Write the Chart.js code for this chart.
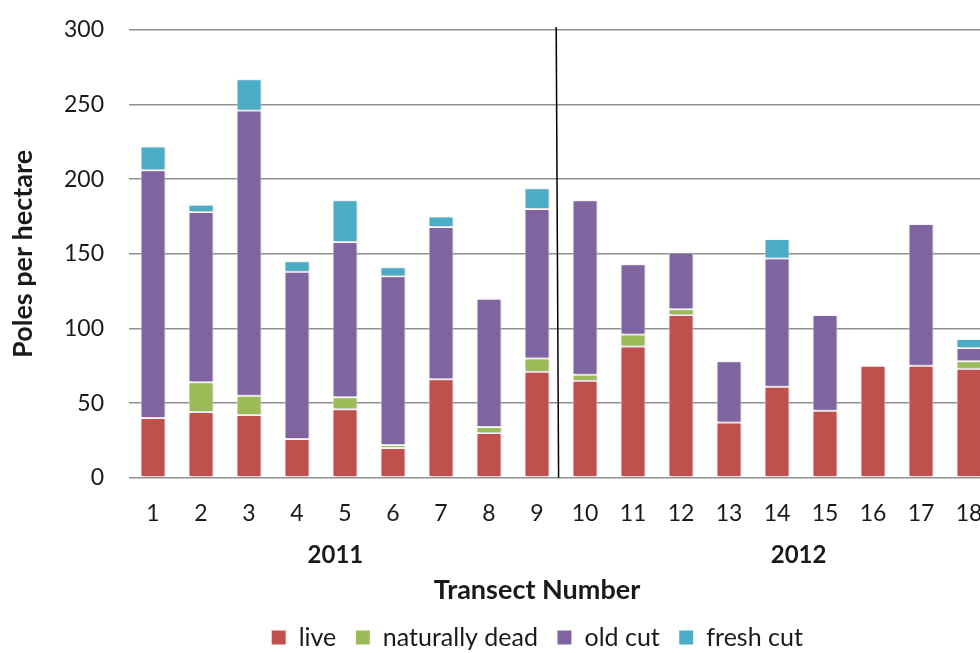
<!DOCTYPE html>
<html>
<head>
<meta charset="utf-8">
<script src="https://cdn.jsdelivr.net/npm/chart.js@4.4.1/dist/chart.umd.min.js"></script>
<style>
  html, body { margin: 0; padding: 0; background: #ffffff; overflow: hidden; }
  #wrap { position: relative; width: 1074px; height: 653px; }
</style>
</head>
<body>
<div id="wrap"><canvas id="chart"></canvas></div>
<script>
// Transect survey: poles per hectare by condition
const transects = ['1','2','3','4','5','6','7','8','9','10','11','12','13','14','15','16','17','18'];
const live          = [40, 44, 42, 26, 46, 20, 66, 30, 71, 65, 88, 109, 37, 61, 45, 75, 75, 73];
const naturallyDead = [ 0, 20, 13,  0,  8,  2,  0,  4,  9,  4,  8,   4,  0,  0,  0,  0,  0,  5];
const oldCut        = [166,114,191,112,104,113,102, 86,100,117, 47,  38, 41, 86, 64,  0, 95,  9];
const freshCut      = [16,  5, 21,  7, 28,  6,  7,  0, 14,  0,  0,   0,  0, 13,  0,  0,  0,  6];
const surveyYears   = ['2011', '2012'];
const yTicks        = [0, 50, 100, 150, 200, 250, 300];

const FONT = 'Lato, "Open Sans", sans-serif';
const INK = '#1a1a1a';

// soft glow under the bars
const barShadow = {
  id: 'barShadow',
  beforeDatasetsDraw(chart) {
    const ctx = chart.ctx;
    ctx.save();
    ctx.shadowColor = 'rgba(0,0,0,0.28)';
    ctx.shadowBlur = 3;
    ctx.shadowOffsetX = 1;
    ctx.shadowOffsetY = 1;
  },
  afterDatasetsDraw(chart) {
    chart.ctx.restore();
  }
};

// year split line and year captions under the tick labels
const yearDivider = {
  id: 'yearDivider',
  afterDraw(chart, args, opts) {
    const {ctx, chartArea} = chart;
    const x = chart.scales.x;
    ctx.save();
    ctx.strokeStyle = '#000';
    ctx.lineWidth = 1.5;
    ctx.beginPath();
    ctx.moveTo(x.getPixelForValue(opts.splitTop), chartArea.top - 3);
    ctx.lineTo(x.getPixelForValue(opts.splitBottom), chartArea.bottom);
    ctx.stroke();
    ctx.fillStyle = INK;
    ctx.font = 'bold 24px ' + FONT;
    ctx.textAlign = 'center';
    ctx.textBaseline = 'middle';
    surveyYears.forEach((yr, i) => {
      ctx.fillText(yr, x.getPixelForValue(opts.captionAt[i]), chartArea.bottom + opts.captionOffset);
    });
    ctx.restore();
  }
};

const ds = (label, data, color) => ({
  label, data,
  backgroundColor: color,
  borderColor: '#ffffff',
  borderWidth: 1,
  borderSkipped: false,
  categoryPercentage: 1.0,
  barPercentage: 0.52
});

new Chart(document.getElementById('chart'), {
  type: 'bar',
  data: {
    labels: transects,
    datasets: [
      ds('live', live, '#C0504D'),
      ds('naturally dead', naturallyDead, '#9BBB59'),
      ds('old cut', oldCut, '#8064A2'),
      ds('fresh cut', freshCut, '#4BACC6')
    ]
  },
  plugins: [barShadow, yearDivider],
  options: {
    responsive: true,
    maintainAspectRatio: false,
    animation: false,
    layout: { padding: { top: 30, left: 0, right: 0, bottom: 0 } },
    scales: {
      x: {
        stacked: true,
        grid: { display: false, drawTicks: false },
        border: { display: false },
        ticks: { color: INK, font: { family: FONT, size: 23 }, padding: 22, maxRotation: 0, autoSkip: false },
        afterFit(s) { s.height = 92; }
      },
      y: {
        stacked: true,
        min: 0, max: 300,
        afterBuildTicks(s) { s.ticks = yTicks.map(v => ({ value: v })); },
        grid: { color: '#8f8f8f', lineWidth: 1.6, drawTicks: false },
        border: { display: false },
        ticks: { color: INK, font: { family: FONT, size: 23 }, padding: 25 },
        title: { display: true, text: 'Poles per hectare', color: INK, font: { family: FONT, size: 27, weight: 'bold' }, padding: { top: 7, bottom: 0 } },
        afterFit(s) {
          s.width = 129;
          s.paddingTop = 0;
          s.paddingBottom = 0;
        }
      },
      spacer: {
        position: 'right',
        display: true,
        grid: { display: false },
        border: { display: false },
        ticks: { display: false },
        afterFit(s) { s.width = 81; }
      }
    },
    plugins: {
      tooltip: { enabled: false },
      title: {
        display: true,
        text: 'Transect Number',
        position: 'bottom',
        weight: 500,
        color: INK,
        font: { family: FONT, size: 27, weight: 'bold' },
        padding: { top: 3.8, bottom: 0 }
      },
      legend: {
        position: 'bottom',
        maxHeight: 47,
        labels: {
          color: INK,
          font: { family: FONT, size: 25 },
          boxWidth: 15,
          boxHeight: 15,
          padding: 19
        }
      },
      yearDivider: { splitTop: 8.4, splitBottom: 8.45, captionAt: [3.8, 13.45], captionOffset: 77 }
    }
  }
});
</script>
</body>
</html>
